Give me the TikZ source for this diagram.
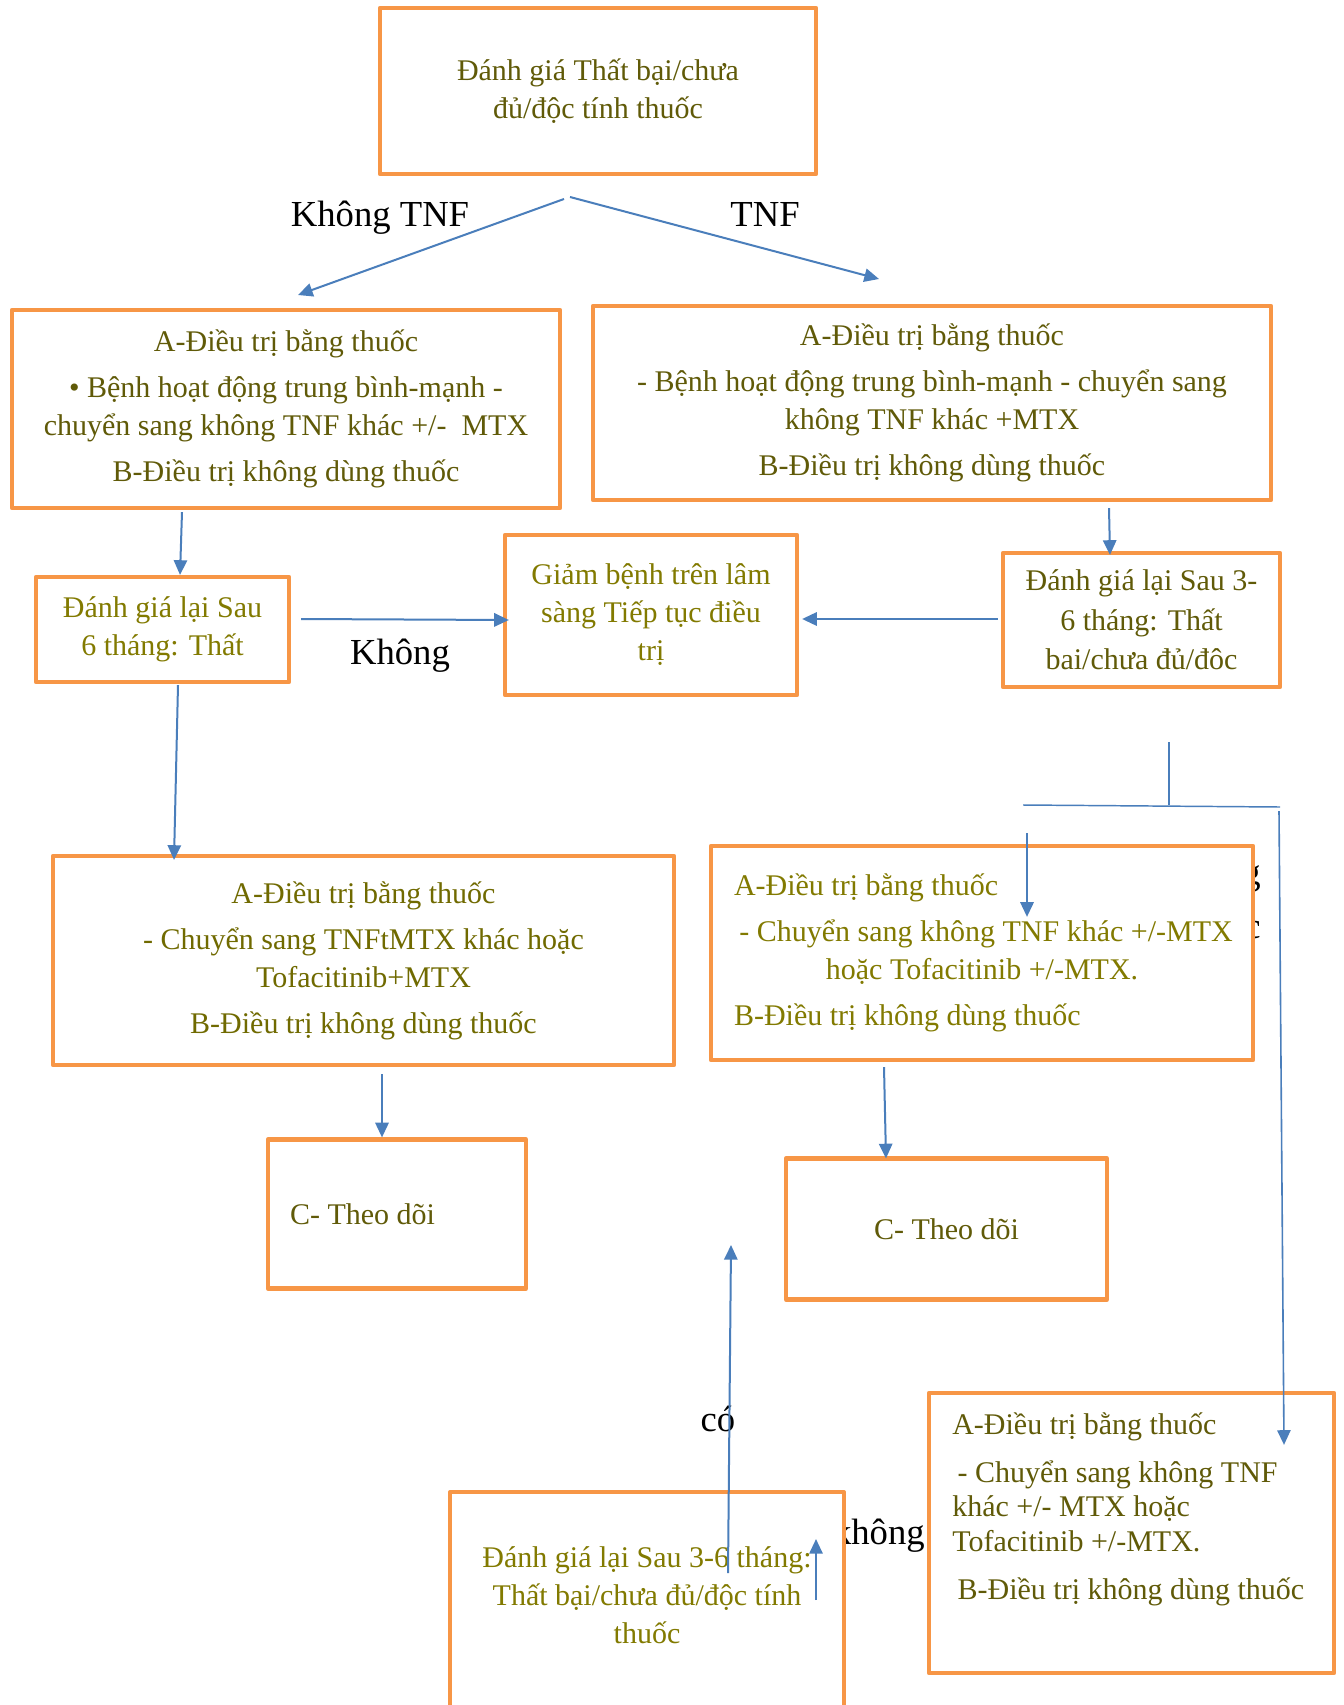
\documentclass[tikz,border=0pt]{standalone}
\usepackage{fontspec}
\setmainfont{Liberation Serif}
\usetikzlibrary{arrows.meta,calc}

\definecolor{boxorange}{HTML}{F79646}
\definecolor{linkblue}{HTML}{4A7EBB}
\definecolor{oliveD}{RGB}{96,90,8}
\definecolor{oliveM}{RGB}{112,106,0}
\definecolor{oliveL}{RGB}{130,122,0}

\newcommand\boxfont{\fontsize{22.5}{28.5}\selectfont}
\newcommand\lblfont{\fontsize{27.5}{40.5}\selectfont}

\tikzset{
  obox/.style={draw=boxorange, line width=3.2pt, line join=round, fill=white,
    rectangle, inner sep=0pt, align=center, font=\boxfont},
  bsize/.style 2 args={minimum width=#1*0.75pt, minimum height=#2*0.75pt},
  link/.style={draw=linkblue, line width=1.5pt, -{Triangle[length=11pt,width=10pt]}},
  thinline/.style={draw=linkblue, line width=1.1pt},
  lbl/.style={font=\lblfont, text=black, inner sep=0pt},
}

\begin{document}
\begin{tikzpicture}[x=0.75pt,y=-0.75pt]
\useasboundingbox (0,0) rectangle (1343,1705);
\fill[white] (0,0) rectangle (1343,1705);
\clip (0,0) rectangle (1343,1705);

% branch labels (some partly covered by boxes drawn later)
\node[lbl, anchor=base] (lblNoTnf) at (380,227) {Không TNF};
\node[lbl, anchor=base] (lblTnf) at (765,227) {TNF};
\node[lbl, anchor=base] (lblKhong) at (400,664) {Không};
\node[lbl, anchor=base] (lblCo) at (718,1431) {có};
\node[lbl, anchor=base east] (lblKhong2) at (925,1544) {không};
\node[lbl, anchor=north east, align=right] (lblSide) at (1261,859) {không\\thuốc};

% boxes
\node[obox, bsize={436}{166}, text=oliveD] (top) at (598,91)
  {Đánh giá Thất bại/chưa\\đủ/độc tính thuốc};

\node[obox, bsize={548}{198}, text=oliveD] (leftA) at (286,409)
  {A-Điều trị bằng thuốc\\[6pt]
   • Bệnh hoạt động trung bình-mạnh -\\
   chuyển sang không TNF khác +/-~ MTX\\[6pt]
   B-Điều trị không dùng thuốc};

\node[obox, bsize={678}{194}, text=oliveD] (rightA) at (932,403)
  {A-Điều trị bằng thuốc\\[6pt]
   - Bệnh hoạt động trung bình-mạnh - chuyển sang\\
   không TNF khác +MTX\\[6pt]
   B-Điều trị không dùng thuốc};

\node[obox, bsize={253}{105}, text=oliveL] (eval6) at (162.5,629.5)
  {Đánh giá lại Sau\\6 tháng: Thất};

\node[obox, bsize={292}{160}, text=oliveL] (giam) at (651,615)
  {Giảm bệnh trên lâm\\sàng Tiếp tục điều\\trị};

\node[obox, bsize={277}{134}, text=oliveD, font=\fontsize{22.5}{29.5}\selectfont]
  (eval3) at (1141.5,620)
  {Đánh giá lại Sau 3-\\6 tháng: Thất\\bai/chưa đủ/đôc};

\node[obox, bsize={621}{209}, text=oliveM] (lowerLeftA) at (363.5,960.5)
  {A-Điều trị bằng thuốc\\[6pt]
   - Chuyển sang TNFtMTX khác hoặc\\
   Tofacitinib+MTX\\[6pt]
   B-Điều trị không dùng thuốc};

\node[obox, bsize={542}{214}, text=oliveL, align=left, inner xsep=17.25pt]
  (lowerRightA) at (982,953)
  {A-Điều trị bằng thuốc\\[6pt]
   \makebox[372pt][l]{\hspace{4pt}- Chuyển sang không TNF khác +/-MTX}\\
   \makebox[372pt][c]{hoặc Tofacitinib +/-MTX.}\\[6pt]
   B-Điều trị không dùng thuốc};

\node[obox, bsize={258}{149}, text=oliveD, align=left, inner xsep=16.5pt]
  (cLeft) at (397,1214) {\makebox[160.5pt][l]{C- Theo dõi}};

\node[obox, bsize={321}{141}, text=oliveD] (cRight) at (946.5,1229) {C- Theo dõi};

\node[obox, bsize={394}{260}, anchor=north] (bottomBox) at (647,1490) {};
\node[font=\boxfont, text=oliveL, align=center, inner sep=0pt] (bottomText) at (647,1595)
  {Đánh giá lại Sau 3-6 tháng:\\Thất bại/chưa đủ/độc tính\\thuốc};

\node[obox, bsize={405}{280}] (brA) at (1131.5,1533) {};
\node[font=\fontsize{22.5}{26}\selectfont, text=oliveD, align=left, inner sep=0pt,
      anchor=north west] (brText) at (952,1412)
  {A-Điều trị bằng thuốc\\[10pt]
   \hspace{4pt}- Chuyển sang không TNF\\
   khác +/- MTX hoặc\\
   Tofacitinib +/-MTX.\\[10pt]
   \hspace{4pt}B-Điều trị không dùng thuốc};

% connectors
\coordinate (split) at (567,198);
\coordinate (leftTip) at (298,295);
\coordinate (rightTip) at (879,279);
\draw[link] ($(split)+(-3,1)$) -- (leftTip);
\draw[link] ($(split)+(3,-1)$) -- (rightTip);

\draw[link] ($(leftA.south)+(-104,2)$) -- ($(eval6.north)+(17.5,0)$);
\draw[link] ($(eval6.east)+(10,-10.5)$) -- ($(giam.west)+(6,5)$);
\draw[link] ($(rightA.south)+(177,6)$) -- ($(eval3.north)+(-31.5,4)$);
\draw[link] ($(eval3.west)+(-3,-1)$) -- ($(giam.east)+(3,4)$);
\draw[link] ($(eval6.south)+(15.5,1)$) -- ($(lowerLeftA.north)+(-189.5,6)$);
\draw[link] ($(lowerLeftA.south)+(18.5,7)$) -- ($(cLeft.north)+(-15,0)$);
\draw[link] ($(lowerRightA.south)+(-98,5)$) -- ($(cRight.north)+(-60.5,2)$);

% bracket below the right re-assessment
\coordinate (brkTop) at (1169,742);
\coordinate (brkL) at (1023,805);
\coordinate (brkR) at (1280,807);
\coordinate (dropStart) at (1027,833);
\draw[thinline] (brkTop) -- (brkTop |- brkL);
\draw[thinline] (brkL) -- (brkR);
\draw[link, line width=1.2pt] ($(brkR)+(-1,4)$) -- ($(brA.north)+(152.5,54)$);
\draw[link] (dropStart) -- ($(lowerRightA.north)+(45,73)$);

% arrows rising from the last re-assessment
\coordinate (coTip) at (731,1245);
\coordinate (smallTip) at (816,1539);
\draw[link] ($(bottomBox.north)+(81,83)$) -- (coTip);
\draw[link] ($(bottomBox.north)+(169,110)$) -- (smallTip);
\end{tikzpicture}
\end{document}
